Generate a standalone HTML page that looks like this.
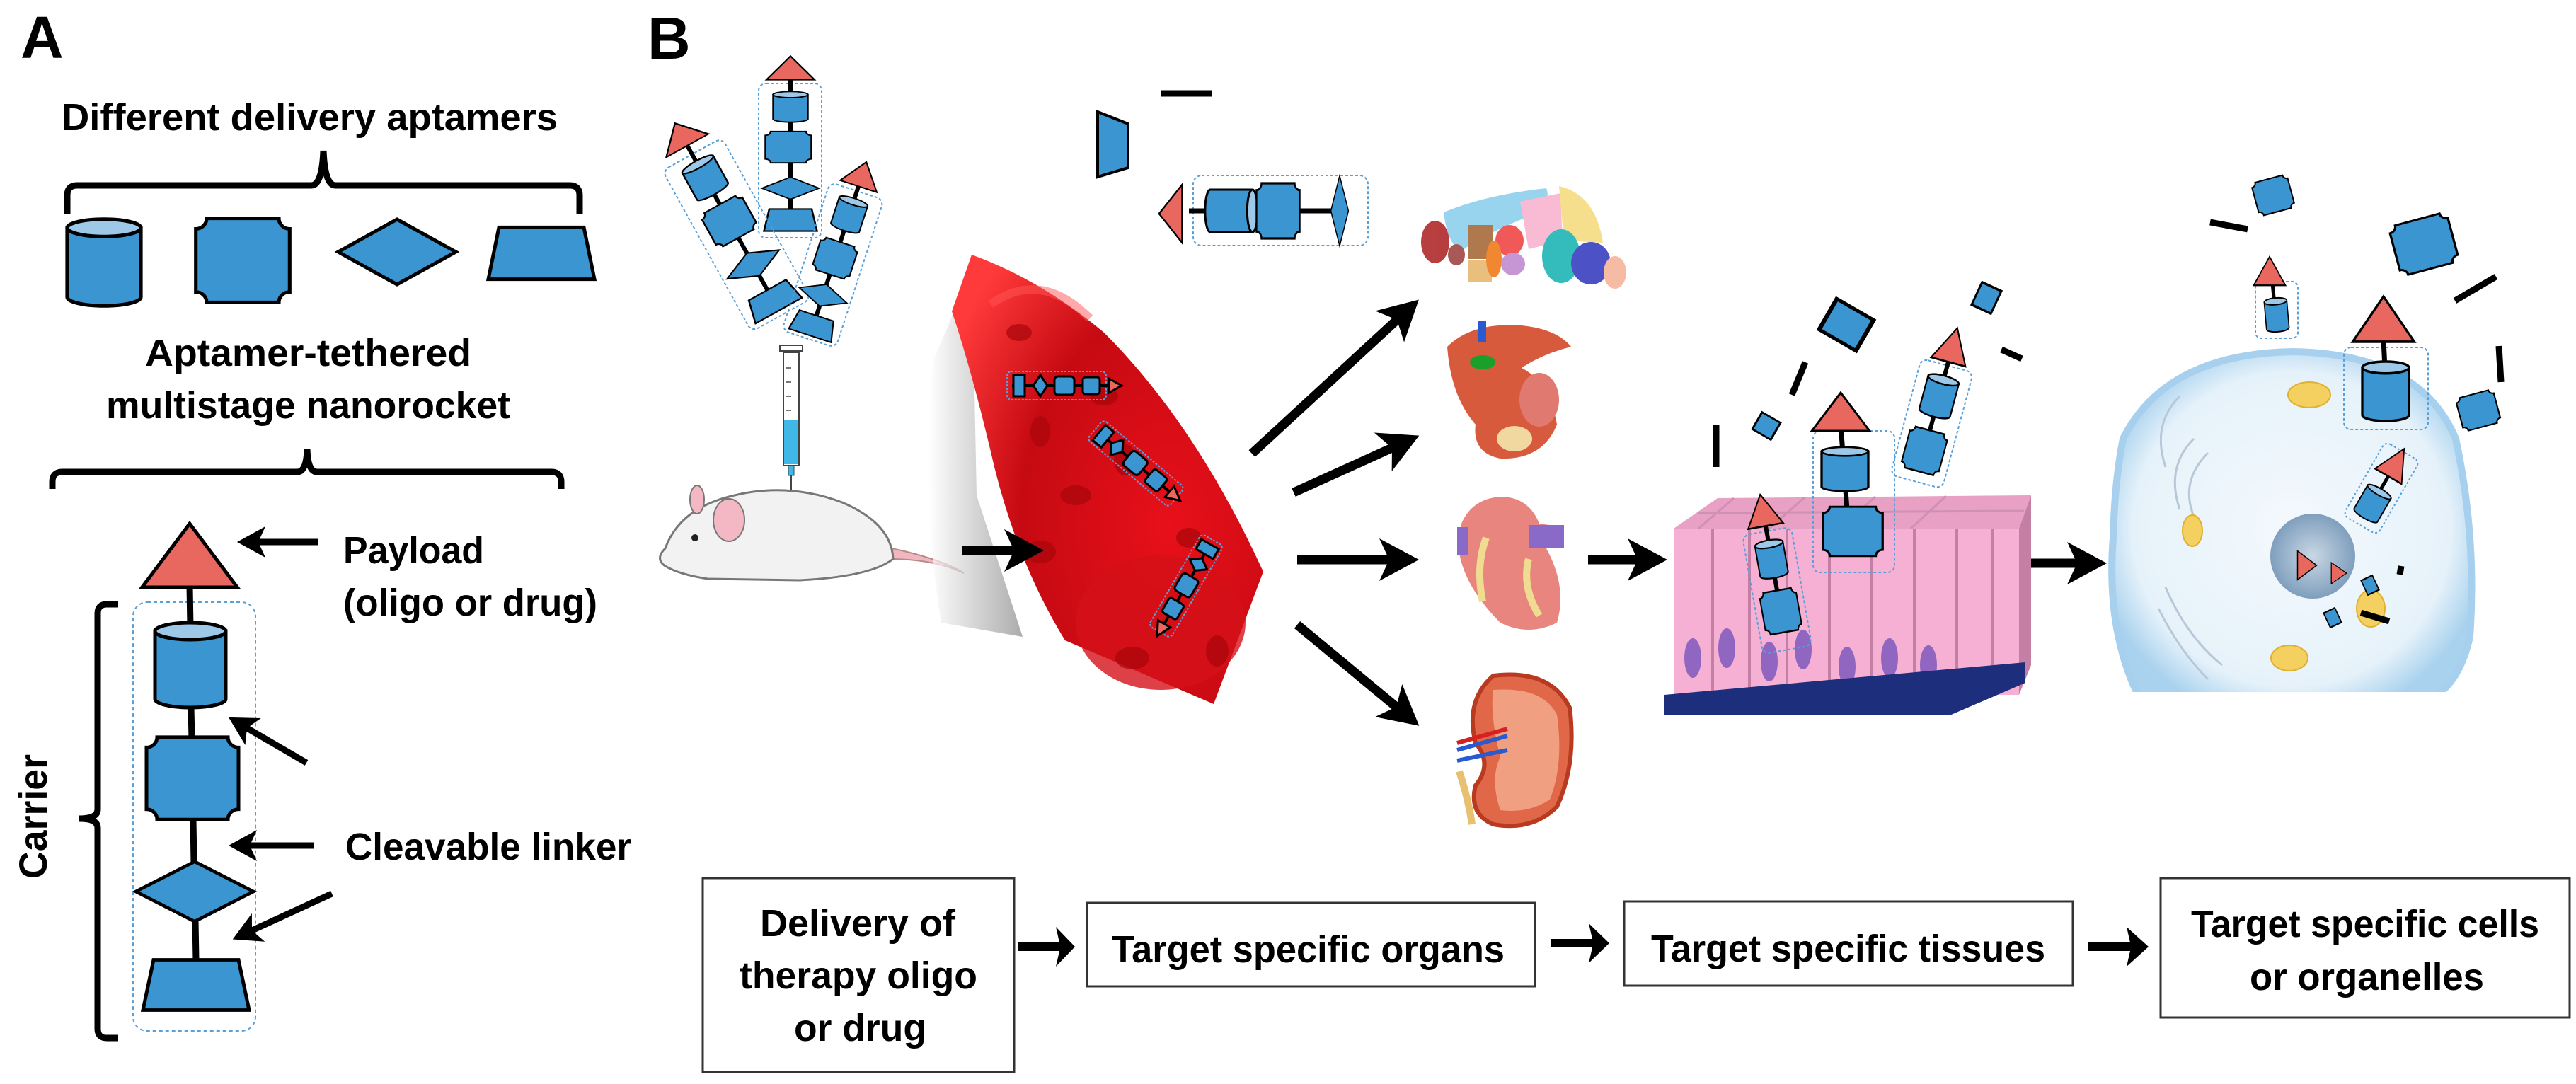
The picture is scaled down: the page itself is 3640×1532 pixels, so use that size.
<!DOCTYPE html>
<html><head><meta charset="utf-8"><style>html,body{margin:0;padding:0;background:#fff}svg{display:block}</style></head><body>
<svg width="3640" height="1532" viewBox="0 0 3640 1532" xmlns="http://www.w3.org/2000/svg" font-family="Liberation Sans, sans-serif" font-weight="bold">
<defs>
<g id="cyl"><path d="M-50,-48 V48 A50,12 0 0 0 50,48 V-48 Z" fill="#3a95d0" stroke="#000" stroke-width="5"/><ellipse cx="0" cy="-48" rx="50" ry="12" fill="#9ec8e8" stroke="#000" stroke-width="5"/></g>
<path id="oct" d="M-50,-60 H50 A15,15 0 0 0 65,-45 V45 A15,15 0 0 0 50,60 H-50 A15,15 0 0 0 -65,45 V-45 A15,15 0 0 0 -50,-60 Z" fill="#3a95d0" stroke="#000" stroke-width="5"/>
<path id="dia" d="M0,-46 L84,0 L0,46 L-84,0 Z" fill="#3a95d0" stroke="#000" stroke-width="5"/>
<path id="trap" d="M-60,-37 H60 L75,37 H-75 Z" fill="#3a95d0" stroke="#000" stroke-width="5"/>
<path id="tri" d="M0,-45 L68,45 H-68 Z" fill="#e8675e" stroke="#000" stroke-width="5"/>
<path id="sq" d="M-25,-25 H25 V25 H-25 Z" fill="#3a95d0" stroke="#000" stroke-width="5"/>
<marker id="ahs" markerUnits="userSpaceOnUse" viewBox="0 0 40 44" refX="10" refY="22" markerWidth="40" markerHeight="44" orient="auto"><path d="M0,0 L40,22 L0,44 L10,22Z" fill="#000"/></marker>
<marker id="ahb" markerUnits="userSpaceOnUse" viewBox="0 0 56 60" refX="14" refY="30" markerWidth="56" markerHeight="60" orient="auto"><path d="M0,0 L56,30 L0,60 L14,30Z" fill="#000"/></marker>
<radialGradient id="vess" cx="0.7" cy="0.6" r="0.8"><stop offset="0" stop-color="#e8101a"/><stop offset="0.6" stop-color="#c60a12"/><stop offset="1" stop-color="#ff3a3a"/></radialGradient>
<linearGradient id="shad" x1="0" y1="0" x2="1" y2="0"><stop offset="0" stop-color="#fff"/><stop offset="1" stop-color="#888"/></linearGradient>
<radialGradient id="cellg" cx="0.5" cy="0.5" r="0.55"><stop offset="0" stop-color="#f4f9fd"/><stop offset="0.8" stop-color="#e6f2fa"/><stop offset="1" stop-color="#a9d2ee"/></radialGradient>
<radialGradient id="nucg" cx="0.5" cy="0.5" r="0.5"><stop offset="0" stop-color="#c9d7e4"/><stop offset="1" stop-color="#7f9fbd"/></radialGradient>
<clipPath id="cellclip"><rect x="2960" y="470" width="560" height="508"/></clipPath>
</defs>

<!-- PANEL A -->
<text x="29" y="82" font-size="84">A</text>
<text x="87" y="184" font-size="54" textLength="701" lengthAdjust="spacingAndGlyphs">Different delivery aptamers</text>
<path d="M95,303 V276 Q95,262 109,262 H440 Q455,262 457,213 Q459,262 474,262 H805 Q819,262 819,276 V303" fill="none" stroke="#000" stroke-width="9"/>
<use href="#cyl" transform="translate(147,371) scale(1.04,1.02)"/>
<use href="#oct" transform="translate(343,368) scale(1.02,0.99)"/>
<use href="#dia" transform="translate(561,356) scale(0.99,1)"/>
<use href="#trap" transform="translate(765,358) scale(1,0.99)"/>
<text x="205" y="517" font-size="54" textLength="461" lengthAdjust="spacingAndGlyphs">Aptamer-tethered</text>
<text x="150" y="591" font-size="54" textLength="571" lengthAdjust="spacingAndGlyphs">multistage nanorocket</text>
<path d="M74,691 V681 Q74,667 88,667 H420 Q433,667 434,635 Q435,667 448,667 H779 Q793,667 793,681 V691" fill="none" stroke="#000" stroke-width="9"/>

<rect x="188" y="851" width="173" height="606" rx="20" fill="none" stroke="#5aa0d8" stroke-width="2" stroke-dasharray="5 4"/>
<g stroke="#000" stroke-width="9"><line x1="268" y1="828" x2="269" y2="886"/><line x1="270" y1="1000" x2="271" y2="1045"/><line x1="273" y1="1158" x2="274" y2="1220"/><line x1="276" y1="1300" x2="277" y2="1358"/></g>
<use href="#tri" transform="translate(268,785) scale(0.99,1)"/>
<use href="#cyl" transform="translate(269,940)"/>
<use href="#oct" transform="translate(272,1100) scale(1,0.97)"/>
<use href="#dia" transform="translate(275,1260) scale(0.99,0.92)"/>
<use href="#trap" transform="translate(277,1392) scale(1,0.96)"/>
<path d="M167,854 H151 Q138,854 138,867 V1144 Q138,1157 112,1157 Q138,1157 138,1170 V1454 Q138,1467 151,1467 H167" fill="none" stroke="#000" stroke-width="9"/>
<text transform="translate(66,1154) rotate(-90)" text-anchor="middle" font-size="56" textLength="176" lengthAdjust="spacingAndGlyphs">Carrier</text>
<g stroke="#000" stroke-width="9" marker-end="url(#ahs)"><line x1="450" y1="766" x2="365" y2="766"/><line x1="433" y1="1078" x2="349" y2="1029"/><line x1="444" y1="1195" x2="353" y2="1195"/><line x1="469" y1="1263" x2="356" y2="1315"/></g>
<text x="485" y="796" font-size="54" textLength="199" lengthAdjust="spacingAndGlyphs">Payload</text>
<text x="485" y="870" font-size="54" textLength="359" lengthAdjust="spacingAndGlyphs">(oligo or drug)</text>
<text x="488" y="1215" font-size="54" textLength="404" lengthAdjust="spacingAndGlyphs">Cleavable linker</text>

<!-- PANEL B -->
<text x="915" y="83" font-size="84">B</text>

<!-- vertical rocket near syringe -->
<rect x="1072" y="118" width="89" height="218" rx="10" fill="none" stroke="#5aa0d8" stroke-width="2" stroke-dasharray="4 3"/>
<g stroke="#000" stroke-width="6"><line x1="1117" y1="110" x2="1117" y2="300"/></g>
<use href="#tri" transform="translate(1117,96) scale(0.5,0.37)"/>
<use href="#cyl" transform="translate(1117,151) scale(0.49,0.36)"/>
<use href="#oct" transform="translate(1114,208) scale(0.5,0.37)"/>
<use href="#dia" transform="translate(1117,266) scale(0.48,0.34)"/>
<use href="#trap" transform="translate(1117,311) scale(0.5,0.42)"/>
<!-- left tilted rocket -->
<g transform="translate(1040,330) rotate(-29)">
<rect x="-48" y="-128" width="96" height="260" rx="10" fill="none" stroke="#5aa0d8" stroke-width="2" stroke-dasharray="4 3"/>
<line x1="0" y1="-150" x2="0" y2="110" stroke="#000" stroke-width="6"/>
<use href="#tri" transform="translate(0,-160) scale(0.5,0.4)"/>
<use href="#cyl" transform="translate(0,-90) scale(0.5,0.45)"/>
<use href="#oct" transform="translate(0,-20) scale(0.5,0.45)"/>
<use href="#dia" transform="translate(0,50) scale(0.5,0.4)"/>
<use href="#trap" transform="translate(0,108) scale(0.5,0.45)"/>
</g>
<!-- right tilted rocket -->
<g transform="translate(1180,365) rotate(18)">
<rect x="-40" y="-100" width="80" height="220" rx="10" fill="none" stroke="#5aa0d8" stroke-width="2" stroke-dasharray="4 3"/>
<line x1="0" y1="-120" x2="0" y2="105" stroke="#000" stroke-width="6"/>
<use href="#tri" transform="translate(0,-125) scale(0.4,0.4)"/>
<use href="#cyl" transform="translate(0,-65) scale(0.42,0.4)"/>
<use href="#oct" transform="translate(0,0) scale(0.42,0.4)"/>
<use href="#dia" transform="translate(0,55) scale(0.42,0.35)"/>
<use href="#trap" transform="translate(0,100) scale(0.42,0.4)"/>
</g>
<!-- syringe -->
<rect x="1107" y="498" width="22" height="160" fill="#fff" stroke="#444" stroke-width="2"/>
<rect x="1102" y="488" width="32" height="8" fill="#fff" stroke="#444" stroke-width="2"/>
<rect x="1108" y="594" width="20" height="62" fill="#3fb8e8"/>
<rect x="1114" y="658" width="8" height="14" fill="#3fb8e8" stroke="#444" stroke-width="1"/>
<line x1="1118" y1="672" x2="1118" y2="705" stroke="#444" stroke-width="2"/>
<g stroke="#777" stroke-width="2"><line x1="1110" y1="520" x2="1118" y2="520"/><line x1="1110" y1="540" x2="1118" y2="540"/><line x1="1110" y1="560" x2="1118" y2="560"/><line x1="1110" y1="580" x2="1118" y2="580"/></g>
<!-- mouse -->
<path d="M1260,775 Q1330,790 1362,810 Q1320,790 1255,790 Z" fill="#f0b7c0" stroke="#b88" stroke-width="2"/>
<path d="M940,775 Q960,720 1030,702 Q1110,680 1190,710 Q1260,740 1262,790 Q1230,815 1130,820 L1000,818 Q960,812 940,800 Q925,790 940,775 Z" fill="#f2f2f2" stroke="#777" stroke-width="3"/>
<ellipse cx="1030" cy="735" rx="22" ry="30" fill="#f3b8c4" stroke="#777" stroke-width="2"/>
<ellipse cx="985" cy="706" rx="10" ry="20" fill="#f3b8c4" stroke="#777" stroke-width="2"/>
<circle cx="982" cy="760" r="5" fill="#222"/>

<!-- top fragments -->
<line x1="1640" y1="132" x2="1712" y2="132" stroke="#000" stroke-width="9"/>
<path d="M1551,158 L1594,175 L1594,237 L1551,250 Z" fill="#3a95d0" stroke="#000" stroke-width="4"/>
<rect x="1686" y="248" width="247" height="99" rx="12" fill="none" stroke="#5aa0d8" stroke-width="2" stroke-dasharray="4 3"/>
<line x1="1680" y1="298" x2="1900" y2="298" stroke="#000" stroke-width="7"/>
<use href="#tri" transform="translate(1654,302) rotate(-90) scale(0.6,0.36)"/>
<g transform="translate(1740,298) rotate(90) scale(0.6,0.62)"><use href="#cyl"/></g>
<use href="#oct" transform="translate(1806,298) scale(0.47,0.65)"/>
<use href="#dia" transform="translate(1893,298) rotate(90) scale(0.59,0.27)"/>

<!-- vessel -->
<path d="M1319,507 Q1360,420 1373,360 L1380,700 L1445,900 L1330,880 Q1300,700 1319,507 Z" fill="url(#shad)" opacity="0.7"/>
<path d="M1373,360 Q1470,395 1560,470 Q1690,600 1785,808 L1715,995 L1505,905 Q1440,800 1405,660 Q1375,530 1345,440 Z" fill="url(#vess)"/>
<ellipse cx="1640" cy="880" rx="120" ry="95" fill="#d41018" opacity="0.8"/>
<path d="M1400,430 Q1470,380 1540,450" fill="none" stroke="#f55" stroke-width="12" opacity="0.5"/>
<g fill="#a8050c" opacity="0.7"><ellipse cx="1440" cy="470" rx="18" ry="12"/><ellipse cx="1470" cy="610" rx="14" ry="22"/><ellipse cx="1520" cy="700" rx="22" ry="14"/><ellipse cx="1560" cy="560" rx="20" ry="13"/><ellipse cx="1590" cy="650" rx="16" ry="22"/><ellipse cx="1470" cy="780" rx="22" ry="16"/><ellipse cx="1600" cy="930" rx="24" ry="16"/><ellipse cx="1680" cy="760" rx="18" ry="14"/><ellipse cx="1720" cy="920" rx="16" ry="22"/></g>
<!-- vessel mini rockets -->
<rect x="1423" y="525" width="140" height="40" rx="6" fill="none" stroke="#5aa0d8" stroke-width="2" stroke-dasharray="3 2"/>
<line x1="1430" y1="545" x2="1575" y2="545" stroke="#000" stroke-width="4"/>
<g fill="#3a95d0" stroke="#000" stroke-width="3"><rect x="1432" y="530" width="16" height="30"/><path d="M1470,530 L1480,545 L1470,560 L1460,545Z"/><rect x="1490" y="532" width="28" height="26" rx="5"/><rect x="1530" y="533" width="24" height="24" rx="4"/><path d="M1567,535 L1585,545 L1567,555Z" fill="#e8675e"/></g>
<g transform="translate(1605,655) rotate(40)">
<rect x="-75" y="-18" width="150" height="36" rx="6" fill="none" stroke="#5aa0d8" stroke-width="2" stroke-dasharray="3 2"/>
<line x1="-68" y1="0" x2="80" y2="0" stroke="#000" stroke-width="4"/>
<g fill="#3a95d0" stroke="#000" stroke-width="3"><rect x="-68" y="-14" width="16" height="28"/><path d="M-35,-14 L-25,0 L-35,14 L-45,0Z"/><rect x="-15" y="-13" width="28" height="26" rx="5"/><rect x="25" y="-12" width="24" height="24" rx="4"/><path d="M62,-10 L82,0 L62,10Z" fill="#e8675e"/></g></g>
<g transform="translate(1676,828) rotate(-60)">
<rect x="-75" y="-18" width="150" height="36" rx="6" fill="none" stroke="#5aa0d8" stroke-width="2" stroke-dasharray="3 2"/>
<line x1="-80" y1="0" x2="68" y2="0" stroke="#000" stroke-width="4"/>
<g fill="#3a95d0" stroke="#000" stroke-width="3"><rect x="52" y="-14" width="16" height="28"/><path d="M35,-14 L45,0 L35,14 L25,0Z"/><rect x="-13" y="-13" width="28" height="26" rx="5"/><rect x="-49" y="-12" width="24" height="24" rx="4"/><path d="M-62,-10 L-82,0 L-62,10Z" fill="#e8675e"/></g></g>

<!-- organ arrows -->
<g stroke="#000" stroke-width="13" marker-end="url(#ahb)">
<line x1="1359" y1="778" x2="1433" y2="778"/>
<line x1="1769" y1="641" x2="1974" y2="452"/>
<line x1="1828" y1="696" x2="1967" y2="633"/>
<line x1="1833" y1="791" x2="1963" y2="791"/>
<line x1="1833" y1="883" x2="1973" y2="999"/>
<line x1="2244" y1="791" x2="2314" y2="791"/>
<line x1="2866" y1="796" x2="2935" y2="796"/>
</g>

<!-- brain -->
<g opacity="0.9">
<ellipse cx="2028" cy="342" rx="20" ry="30" fill="#b02a2a"/>
<path d="M2040,300 Q2100,275 2185,266 Q2195,290 2150,310 Q2090,335 2065,355 Q2045,345 2040,300Z" fill="#8fd0ee"/>
<rect x="2075" y="318" width="35" height="48" fill="#a86a3a"/>
<ellipse cx="2133" cy="340" rx="20" ry="22" fill="#f04848"/>
<path d="M2148,285 L2205,273 L2208,340 L2160,352 Z" fill="#f8b4cf"/>
<path d="M2203,263 Q2255,275 2265,343 L2210,340 Z" fill="#f6dc80"/>
<ellipse cx="2206" cy="362" rx="27" ry="38" fill="#1fb5b5"/>
<ellipse cx="2248" cy="372" rx="28" ry="30" fill="#3a3fc0"/>
<ellipse cx="2282" cy="385" rx="16" ry="23" fill="#f4b49a"/>
<rect x="2075" y="368" width="33" height="30" fill="#e8b870"/>
<ellipse cx="2111" cy="366" rx="11" ry="26" fill="#f07b1a"/>
<ellipse cx="2138" cy="373" rx="17" ry="16" fill="#c08ad0"/>
<ellipse cx="2058" cy="360" rx="12" ry="15" fill="#a04646"/>
</g>
<!-- liver/stomach -->
<path d="M2045,490 Q2080,455 2150,460 Q2200,465 2220,490 Q2180,500 2150,520 Q2190,540 2200,600 Q2180,650 2120,648 Q2080,640 2085,600 Q2050,560 2045,490 Z" fill="#d85a3c"/>
<ellipse cx="2095" cy="512" rx="18" ry="10" fill="#1aa02a"/>
<rect x="2088" y="453" width="12" height="30" fill="#2a5ad0"/>
<ellipse cx="2140" cy="620" rx="25" ry="18" fill="#f0d8a0"/>
<ellipse cx="2175" cy="565" rx="28" ry="38" fill="#e07a70"/>
<!-- heart -->
<path d="M2065,740 Q2080,705 2120,702 Q2160,702 2175,740 L2210,745 L2210,775 L2185,775 Q2215,830 2200,880 Q2160,900 2120,880 Q2060,820 2060,760 Z" fill="#e8857f"/>
<rect x="2160" y="742" width="50" height="32" fill="#8a6ac8"/>
<rect x="2059" y="745" width="16" height="40" fill="#8a6ac8"/>
<path d="M2100,760 Q2085,800 2095,850" fill="none" stroke="#f0dc90" stroke-width="10"/>
<path d="M2160,790 Q2150,830 2175,870" fill="none" stroke="#f0dc90" stroke-width="10"/>
<!-- kidney -->
<path d="M2110,955 Q2190,945 2218,1000 Q2228,1080 2200,1140 Q2165,1175 2110,1165 Q2075,1150 2085,1110 Q2110,1080 2085,1050 Q2070,990 2110,955 Z" fill="#e06848" stroke="#b83a20" stroke-width="6"/>
<path d="M2110,975 Q2180,970 2200,1010 Q2210,1080 2190,1130 Q2160,1150 2120,1145 Q2105,1100 2120,1070 Q2105,1010 2110,975Z" fill="#f0a080"/>
<path d="M2059,1060 L2130,1040 M2059,1075 L2130,1060" stroke="#2a5ad0" stroke-width="6"/>
<path d="M2059,1050 L2130,1030" stroke="#d82020" stroke-width="6"/>
<path d="M2062,1090 Q2075,1130 2080,1165" stroke="#e8c070" stroke-width="10" fill="none"/>

<!-- tissue -->
<path d="M2365,747 L2427,704 L2870,700 L2853,747 Z" fill="#e8a0c4"/>
<path d="M2853,747 L2870,700 L2870,940 L2853,982 Z" fill="#c47fa5"/>
<rect x="2365" y="747" width="488" height="235" fill="#f6b0d4"/>
<g stroke="#c47fa5" stroke-width="4"><line x1="2420" y1="747" x2="2420" y2="982"/><line x1="2472" y1="747" x2="2472" y2="982"/><line x1="2525" y1="747" x2="2525" y2="982"/><line x1="2585" y1="747" x2="2585" y2="982"/><line x1="2645" y1="747" x2="2645" y2="982"/><line x1="2705" y1="747" x2="2705" y2="982"/><line x1="2765" y1="747" x2="2765" y2="982"/><line x1="2815" y1="747" x2="2815" y2="982"/></g>
<g stroke="#d090b4" stroke-width="3"><line x1="2450" y1="704" x2="2400" y2="747"/><line x1="2550" y1="703" x2="2500" y2="747"/><line x1="2650" y1="702" x2="2600" y2="747"/><line x1="2750" y1="701" x2="2700" y2="747"/><line x1="2400" y1="725" x2="2860" y2="722"/></g>
<g fill="#9066c0"><ellipse cx="2392" cy="930" rx="12" ry="28"/><ellipse cx="2440" cy="916" rx="12" ry="28"/><ellipse cx="2500" cy="935" rx="12" ry="28"/><ellipse cx="2548" cy="918" rx="12" ry="28"/><ellipse cx="2610" cy="942" rx="12" ry="28"/><ellipse cx="2670" cy="930" rx="12" ry="28"/><ellipse cx="2725" cy="940" rx="12" ry="28"/></g>
<path d="M2352,982 L2862,936 L2862,965 L2755,1011 L2352,1011 Z" fill="#1c2e7c"/>
<!-- tissue fragments -->
<use href="#sq" transform="translate(2609,459) rotate(30) scale(1.2,1)"/>
<use href="#sq" transform="translate(2807,421) rotate(25) scale(0.6,0.7)"/>
<use href="#sq" transform="translate(2496,602) rotate(30) scale(0.6,0.55)"/>
<g stroke="#000" stroke-width="9"><line x1="2551" y1="512" x2="2532" y2="558"/><line x1="2425" y1="601" x2="2425" y2="660"/><line x1="2828" y1="494" x2="2857" y2="507"/></g>
<rect x="2562" y="609" width="115" height="200" rx="10" fill="none" stroke="#5aa0d8" stroke-width="2" stroke-dasharray="4 3"/>
<line x1="2601" y1="600" x2="2610" y2="720" stroke="#000" stroke-width="7"/>
<use href="#tri" transform="translate(2601,582) scale(0.6,0.6)"/>
<use href="#cyl" transform="translate(2607,663) scale(0.66,0.52)"/>
<use href="#oct" transform="translate(2618,751) scale(0.65,0.58)"/>
<g transform="translate(2740,560) rotate(15)">
<rect x="-38" y="-45" width="76" height="170" rx="10" fill="none" stroke="#5aa0d8" stroke-width="2" stroke-dasharray="4 3"/>
<line x1="0" y1="-80" x2="0" y2="80" stroke="#000" stroke-width="6"/>
<use href="#tri" transform="translate(0,-75) scale(0.37,0.55)"/>
<use href="#cyl" transform="translate(0,0) scale(0.45,0.5)"/>
<use href="#oct" transform="translate(0,80) scale(0.42,0.5)"/>
</g>
<g transform="translate(2505,800) rotate(-10)">
<rect x="-35" y="-50" width="70" height="170" rx="10" fill="none" stroke="#5aa0d8" stroke-width="2" stroke-dasharray="4 3"/>
<line x1="0" y1="-80" x2="0" y2="70" stroke="#000" stroke-width="6"/>
<use href="#tri" transform="translate(0,-80) scale(0.37,0.5)"/>
<use href="#cyl" transform="translate(0,-10) scale(0.4,0.45)"/>
<use href="#oct" transform="translate(0,65) scale(0.4,0.5)"/>
</g>

<!-- cell -->
<g clip-path="url(#cellclip)">
<path d="M3000,620 Q3060,500 3240,497 Q3420,500 3470,620 Q3500,760 3490,900 Q3470,990 3400,1000 L3030,1000 Q2975,900 2986,760 Q2988,680 3000,620 Z" fill="url(#cellg)" stroke="#a6d0ee" stroke-width="10"/>
</g>
<g fill="none" stroke="#b8c8d8" stroke-width="3"><path d="M3080,560 Q3040,600 3060,660"/><path d="M3100,620 Q3060,660 3080,720"/><path d="M3120,640 Q3080,680 3100,730"/><path d="M3050,860 Q3080,920 3120,960"/><path d="M3060,830 Q3090,900 3140,940"/></g>
<circle cx="3268" cy="786" r="60" fill="url(#nucg)"/>
<g fill="#f4d060" stroke="#e0b030" stroke-width="2"><ellipse cx="3263" cy="558" rx="30" ry="18"/><ellipse cx="3098" cy="750" rx="14" ry="22"/><ellipse cx="3350" cy="860" rx="20" ry="26"/><ellipse cx="3235" cy="930" rx="26" ry="18"/></g>
<!-- cell fragments -->
<use href="#oct" transform="translate(3212,276) rotate(-15) scale(0.4,0.4)"/>
<use href="#oct" transform="translate(3425,345) rotate(-15) scale(0.65,0.6)"/>
<use href="#oct" transform="translate(3502,580) rotate(-15) scale(0.42,0.4)"/>
<g stroke="#000" stroke-width="9"><line x1="3123" y1="314" x2="3176" y2="324"/><line x1="3469" y1="425" x2="3527" y2="391"/><line x1="3531" y1="489" x2="3534" y2="540"/><line x1="3336" y1="866" x2="3376" y2="878"/><line x1="3393" y1="800" x2="3391" y2="812"/></g>
<rect x="3187" y="398" width="60" height="80" rx="8" fill="none" stroke="#5aa0d8" stroke-width="2" stroke-dasharray="4 3"/>
<line x1="3210" y1="390" x2="3215" y2="440" stroke="#000" stroke-width="5"/>
<use href="#tri" transform="translate(3207,383) scale(0.33,0.45)"/>
<use href="#cyl" transform="translate(3217,445) rotate(-5) scale(0.32,0.4)"/>
<rect x="3312" y="491" width="119" height="116" rx="10" fill="none" stroke="#5aa0d8" stroke-width="2" stroke-dasharray="4 3"/>
<line x1="3368" y1="480" x2="3370" y2="520" stroke="#000" stroke-width="7"/>
<use href="#tri" transform="translate(3368,451) scale(0.64,0.71)"/>
<use href="#cyl" transform="translate(3371,553) scale(0.66,0.7)"/>
<g transform="translate(3365,690) rotate(30)">
<rect x="-28" y="-60" width="56" height="120" rx="8" fill="none" stroke="#5aa0d8" stroke-width="2" stroke-dasharray="3 3"/>
<line x1="0" y1="-45" x2="0" y2="10" stroke="#000" stroke-width="5"/>
<use href="#tri" transform="translate(0,-42) scale(0.32,0.5)"/>
<use href="#cyl" transform="translate(0,25) scale(0.38,0.4)"/>
</g>
<use href="#tri" transform="translate(3260,799) rotate(90) scale(0.3,0.3)"/>
<use href="#tri" transform="translate(3305,810) rotate(90) scale(0.22,0.24)"/>
<use href="#sq" transform="translate(3349,827) rotate(-25) scale(0.35,0.45)"/>
<use href="#sq" transform="translate(3296,873) rotate(-25) scale(0.35,0.45)"/>

<!-- bottom flow boxes -->
<g fill="#fff" stroke="#333" stroke-width="3">
<rect x="993" y="1241" width="440" height="274"/>
<rect x="1536" y="1276" width="633" height="118"/>
<rect x="2295" y="1274" width="634" height="119"/>
<rect x="3053" y="1241" width="578" height="197"/>
</g>
<g font-size="54">
<text x="1074" y="1323" textLength="276" lengthAdjust="spacingAndGlyphs">Delivery of</text>
<text x="1045" y="1397" textLength="336" lengthAdjust="spacingAndGlyphs">therapy oligo</text>
<text x="1122" y="1471" textLength="187" lengthAdjust="spacingAndGlyphs">or drug</text>
<text x="1571" y="1360" textLength="555" lengthAdjust="spacingAndGlyphs">Target specific organs</text>
<text x="2333" y="1359" textLength="557" lengthAdjust="spacingAndGlyphs">Target specific tissues</text>
<text x="3096" y="1324" textLength="492" lengthAdjust="spacingAndGlyphs">Target specific cells</text>
<text x="3179" y="1399" textLength="331" lengthAdjust="spacingAndGlyphs">or organelles</text>
</g>
<g fill="#000">
<path d="M1438,1332 H1497 L1492,1310 L1519,1338 L1492,1366 L1497,1344 H1438 Z"/>
<path d="M2191,1327 H2250 L2245,1305 L2274,1333 L2245,1361 L2250,1339 H2191 Z"/>
<path d="M2950,1332 H3010 L3005,1310 L3036,1338 L3005,1366 L3010,1344 H2950 Z"/>
</g>
</svg>
</body></html>
